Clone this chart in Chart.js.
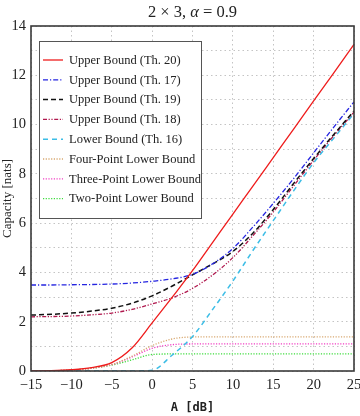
<!DOCTYPE html>
<html><head><meta charset="utf-8">
<script src="https://cdn.jsdelivr.net/npm/chart.js@4/dist/chart.umd.min.js"></script>
<style>html,body{margin:0;padding:0;background:#fff}#wrap{width:360px;height:416px;position:relative}</style>
</head><body><div id="wrap"><canvas id="c"></canvas></div>
<script>
// ---- text ----
const titleParts = [['2 × 3, ', false], ['α', true], [' = 0.9', false]];
const xAxisTitle = 'A [dB]';
const yAxisTitle = 'Capacity [nats]';
const xTicks = [-15, -10, -5, 0, 5, 10, 15, 20, 25];
const yTickLabels = [0, 2, 4, 6, 8, 10, 12, 14];

// ---- data (A in dB) ----
const amplitudeDb = [-15, -12.5, -10, -7.5, -5, -2.5, 0, 2.5, 5, 7.5, 10, 12.5, 15, 17.5, 20, 22.5, 25];
const upperTh20 = [0, 0.01, 0.05, 0.14, 0.34, 0.93, 1.95, 3.0, 4.07, 5.22, 6.37, 7.51, 8.66, 9.81, 10.96, 12.1, 13.25];
const upperTh17 = [3.49, 3.49, 3.5, 3.51, 3.53, 3.57, 3.64, 3.74, 3.92, 4.35, 4.97, 5.85, 6.8, 7.8, 8.85, 9.9, 10.92];
const upperTh19 = [2.27, 2.3, 2.35, 2.43, 2.55, 2.75, 3.05, 3.45, 3.9, 4.35, 4.85, 5.6, 6.55, 7.6, 8.62, 9.6, 10.55];
const upperTh18 = [2.2, 2.21, 2.23, 2.28, 2.35, 2.5, 2.72, 2.97, 3.35, 3.9, 4.6, 5.5, 6.45, 7.5, 8.55, 9.55, 10.5];
const lowerTh16 = [0, 0, 0, 0, 0, 0, 0.03, 0.65, 1.4, 2.5, 3.65, 4.9, 6.1, 7.3, 8.45, 9.45, 10.45];
const fourPoint = [0, 0.01, 0.04, 0.11, 0.26, 0.6, 1.03, 1.3, 1.38, 1.386, 1.386, 1.386, 1.386, 1.386, 1.386, 1.386, 1.386];
const threePoint = [0, 0.01, 0.04, 0.11, 0.26, 0.57, 0.92, 1.07, 1.097, 1.099, 1.099, 1.099, 1.099, 1.099, 1.099, 1.099, 1.099];
const twoPoint = [0, 0.01, 0.04, 0.11, 0.24, 0.45, 0.67, 0.692, 0.693, 0.693, 0.693, 0.693, 0.693, 0.693, 0.693, 0.693, 0.693];

const seriesLabels = ['Upper Bound (Th. 20)', 'Upper Bound (Th. 17)', 'Upper Bound (Th. 19)', 'Upper Bound (Th. 18)',
  'Lower Bound (Th. 16)', 'Four-Point Lower Bound', 'Three-Point Lower Bound', 'Two-Point Lower Bound'];
const seriesValues = [upperTh20, upperTh17, upperTh19, upperTh18, lowerTh16, fourPoint, threePoint, twoPoint];
const seriesStyles = [
  {color: '#ee1c1c', dash: [], width: 1.3},
  {color: '#2424e0', dash: [5, 2, 1.2, 2], width: 1.3},
  {color: '#111111', dash: [5, 3], width: 1.5},
  {color: '#b0184e', dash: [4, 1.6, 1.2, 1.6, 1.2, 1.6], width: 1.3},
  {color: '#3cbde6', dash: [5, 4], width: 1.5},
  {color: '#d8a870', dash: [1.2, 1.5], width: 1.3},
  {color: '#f23fc4', dash: [1.2, 1.5], width: 1.3},
  {color: '#3ddc3d', dash: [1.2, 1.5], width: 1.3}
];

const datasets = seriesLabels.map((label, i) => ({
  label,
  data: amplitudeDb.map((a, j) => ({x: a, y: seriesValues[i][j]})),
  borderColor: seriesStyles[i].color,
  borderDash: seriesStyles[i].dash,
  borderWidth: seriesStyles[i].width,
  pointRadius: 0,
  fill: false,
  cubicInterpolationMode: 'monotone'
}));

const serif = '"Liberation Serif", "Times New Roman", serif';

const decorPlugin = {
  id: 'decor',
  afterDraw(chart) {
    const {ctx, chartArea: ca} = chart;
    ctx.save();
    // frame
    ctx.strokeStyle = '#3a3a3a';
    ctx.lineWidth = 1.6;
    ctx.setLineDash([]);
    ctx.strokeRect(ca.left, ca.top, ca.right - ca.left, ca.bottom - ca.top);
    // title
    ctx.fillStyle = '#222';
    ctx.textBaseline = 'middle';
    let total = 0;
    const fonts = titleParts.map(p => (p[1] ? 'italic ' : '') + '16.5px ' + serif);
    titleParts.forEach((p, i) => { ctx.font = fonts[i]; total += ctx.measureText(p[0]).width; });
    let tx = (ca.left + ca.right) / 2 - total / 2;
    titleParts.forEach((p, i) => {
      ctx.font = fonts[i]; ctx.textAlign = 'left';
      ctx.fillText(p[0], tx, 13);
      tx += ctx.measureText(p[0]).width;
    });
    // legend
    const lx = ca.left + 8, ly = ca.top + 15, lw = 162, lh = 177;
    ctx.fillStyle = '#fff';
    ctx.fillRect(lx, ly, lw, lh);
    ctx.strokeStyle = '#555';
    ctx.lineWidth = 1;
    ctx.strokeRect(lx + 0.5, ly + 0.5, lw, lh);
    ctx.font = '12.5px ' + serif;
    ctx.textAlign = 'left';
    ctx.textBaseline = 'middle';
    chart.data.datasets.forEach((ds, i) => {
      const y = ly + 19 + i * 19.8;
      ctx.beginPath();
      ctx.strokeStyle = ds.borderColor;
      ctx.lineWidth = ds.borderWidth;
      ctx.setLineDash(ds.borderDash);
      ctx.moveTo(lx + 4, y);
      ctx.lineTo(lx + 24, y);
      ctx.stroke();
      ctx.setLineDash([]);
      ctx.fillStyle = '#222';
      ctx.fillText(ds.label, lx + 30, y + 0.5);
    });
    ctx.restore();
  }
};

new Chart(document.getElementById('c'), {
  type: 'line',
  data: {datasets},
  options: {
    responsive: true,
    maintainAspectRatio: false,
    animation: false,
    layout: {padding: {top: 26, right: 6, left: 0, bottom: 0}},
    plugins: {legend: {display: false}, title: {display: false}, tooltip: {enabled: false}},
    scales: {
      x: {
        type: 'linear', min: -15, max: 25,
        afterBuildTicks: s => { s.ticks = xTicks.map(v => ({value: v})); },
        afterFit: s => { s.height = 45; s.paddingLeft = 0; s.paddingRight = 0; },
        grid: {color: '#c4c4c4', lineWidth: 1, drawTicks: false},
        border: {display: false, dash: [1.5, 3]},
        ticks: {
          padding: 5, color: '#222', font: {family: serif, size: 14.5},
          maxRotation: 0,
          callback: v => (v < 0 ? '\u2212' + Math.abs(v) : String(v))
        },
        title: {display: true, text: xAxisTitle, color: '#222', padding: {top: 0, bottom: 1},
          font: {family: '"DejaVu Sans Mono", monospace', size: 12, weight: 'bold'}}
      },
      y: {
        type: 'linear', min: 0, max: 14,
        ticks: {
          stepSize: 1, padding: 5, color: '#222', font: {family: serif, size: 14.5},
          callback: v => (yTickLabels.includes(v) ? String(v) : '')
        },
        afterFit: s => { s.width = 31; s.paddingTop = 0; s.paddingBottom = 0; },
        grid: {color: '#c4c4c4', lineWidth: 1, drawTicks: false},
        border: {display: false, dash: [1.5, 3]},
        title: {display: true, text: yAxisTitle, color: '#222', padding: {top: 0, bottom: 0},
          font: {family: serif, size: 13}}
      }
    }
  },
  plugins: [decorPlugin]
});
</script>
</body></html>
